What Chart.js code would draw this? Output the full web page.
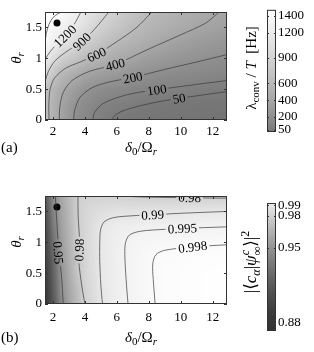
<!DOCTYPE html>
<html>
<head>
<meta charset="utf-8">
<script src="https://cdn.jsdelivr.net/npm/chart.js@4.4.1/dist/chart.umd.min.js"></script>
<style>
  body { margin: 0; background: #fff; }
  #fig { position: relative; width: 314px; height: 352px; overflow: hidden; }
  canvas { position: absolute; }
</style>
</head>
<body>
<div id="fig">
  <canvas id="mapA" width="240" height="176" style="left:0;top:0"></canvas>
  <canvas id="barA" width="74" height="176" style="left:240px;top:0"></canvas>
  <canvas id="mapB" width="240" height="176" style="left:0;top:176px"></canvas>
  <canvas id="barB" width="74" height="176" style="left:240px;top:176px"></canvas>
</div>
<script>
const SERIF = '"Liberation Serif", "DejaVu Serif", serif'

// grid nodes (delta0/Omega_r along x, theta_r along y)
const deltaNodes = [1.5, 2, 2.5, 3, 3.5, 4, 5, 6, 7, 8, 9, 10, 11, 12, 13]
const thetaNodes = [0, 0.25, 0.5, 0.75, 1, 1.25, 1.5, 1.75]

// lambda_conv / T [Hz], one row per theta node
const lambdaGrid = [
	[700, 523, 378, 267, 183, 142, 79, 45, 37, 33, 30, 28, 27, 26, 25],
	[690, 529, 394, 299, 204, 169, 103, 83, 65, 48, 44, 40, 37, 35, 33],
	[700, 563, 460, 373, 309, 236, 179, 150, 127, 110, 98, 88, 79, 69, 61],
	[950, 764, 589, 526, 463, 400, 331, 286, 236, 198, 178, 162, 148, 136, 126],
	[1220, 1027, 873, 794, 715, 635, 538, 459, 395, 324, 282, 248, 221, 200, 190],
	[1400, 1278, 1160, 1050, 940, 856, 720, 592, 525, 458, 398, 348, 309, 277, 251],
	[1450, 1359, 1292, 1224, 1137, 1038, 865, 747, 628, 560, 506, 453, 400, 370, 345],
	[1470, 1440, 1405, 1325, 1242, 1157, 986, 844, 733, 622, 562, 514, 467, 419, 390]
]

// |<c_alpha|psi_inf^c>|^2, one row per theta node
const overlapGrid = [
	[0.882, 0.913, 0.943, 0.958, 0.969, 0.980, 0.989, 0.9928, 0.9955, 0.9973, 0.9985, 0.999, 0.9993, 0.9995, 0.9996],
	[0.885, 0.916, 0.947, 0.960, 0.971, 0.981, 0.9898, 0.993, 0.9957, 0.9975, 0.9986, 0.999, 0.9993, 0.9995, 0.9996],
	[0.888, 0.919, 0.949, 0.962, 0.9745, 0.982, 0.9901, 0.9932, 0.9958, 0.9975, 0.9986, 0.999, 0.9993, 0.9995, 0.9996],
	[0.892, 0.923, 0.952, 0.964, 0.975, 0.982, 0.9902, 0.9934, 0.9958, 0.9974, 0.9984, 0.9988, 0.999, 0.9991, 0.9992],
	[0.896, 0.928, 0.955, 0.966, 0.977, 0.983, 0.9902, 0.9933, 0.9955, 0.9964, 0.9969, 0.9972, 0.9973, 0.9974, 0.9976],
	[0.900, 0.935, 0.956, 0.967, 0.978, 0.9825, 0.9897, 0.9925, 0.9932, 0.9942, 0.9942, 0.9945, 0.9947, 0.9948, 0.995],
	[0.905, 0.940, 0.958, 0.968, 0.979, 0.9825, 0.986, 0.9875, 0.9878, 0.9881, 0.9885, 0.9889, 0.9893, 0.9896, 0.990],
	[0.910, 0.945, 0.960, 0.969, 0.979, 0.9805, 0.981, 0.9805, 0.9795, 0.9793, 0.9792, 0.9792, 0.9791, 0.979, 0.979]
]

// contour lines, [delta0/Omega_r, theta_r]
const lambdaContours = [
	{ level: 1400, pts: [[1.5, 1.24], [1.58, 1.4], [1.75, 1.55], [2.0, 1.66], [2.3, 1.72], [2.55, 1.75]] },
	{ level: 1200, label: [2.75, 1.36], pts: [[1.5, 0.98], [1.8, 1.1], [2.2, 1.22], [2.75, 1.36], [3.3, 1.54], [3.75, 1.75]] },
	{ level: 900, label: [3.8, 1.27], pts: [[1.5, 0.62], [1.7, 0.78], [2.1, 0.95], [2.8, 1.1], [3.8, 1.27], [4.6, 1.47], [5.5, 1.75]] },
	{ level: 600, label: [4.73, 1.06], pts: [[1.75, 0], [1.74, 0.25], [1.82, 0.5], [2.1, 0.68], [2.8, 0.84], [3.7, 0.94], [4.73, 1.06], [6.0, 1.27], [7.2, 1.49], [8.2, 1.75]] },
	{ level: 400, label: [5.9, 0.9], pts: [[2.4, 0], [2.42, 0.2], [2.65, 0.45], [3.2, 0.64], [4.3, 0.79], [5.9, 0.9], [8.0, 1.15], [10.0, 1.38], [11.5, 1.56], [12.1, 1.68], [12.4, 1.75]] },
	{ level: 200, label: [7.0, 0.69], pts: [[3.3, 0], [3.35, 0.15], [3.7, 0.37], [4.5, 0.53], [5.6, 0.62], [7.0, 0.69], [9.0, 0.82], [11.0, 0.94], [12.9, 1.06]] },
	{ level: 100, label: [8.5, 0.49], pts: [[4.5, 0], [4.6, 0.12], [5.1, 0.26], [6.0, 0.36], [7.0, 0.43], [8.5, 0.49], [10.5, 0.56], [12.9, 0.64]] },
	{ level: 50, label: [9.9, 0.35], pts: [[5.7, 0], [5.85, 0.07], [6.4, 0.15], [7.3, 0.22], [8.5, 0.29], [9.9, 0.35], [11.5, 0.41], [12.9, 0.46]] }
]

const overlapContours = [
	{ level: 0.95, label: [2.33, 0.83], pts: [[2.64, 0], [2.55, 0.4], [2.4, 0.8], [2.27, 1.2], [2.15, 1.75]] },
	{ level: 0.98, label: [3.64, 0.875], pts: [[4.0, 0], [3.8, 0.3], [3.62, 0.7], [3.66, 1.05], [3.58, 1.4], [3.56, 1.75]] },
	{ level: 0.98, label: [10.56, 1.725], pts: [[6.3, 1.75], [7.5, 1.735], [9.5, 1.725], [12.9, 1.715]] },
	{ level: 0.99, label: [8.25, 1.445], pts: [[5.1, 0], [5.0, 0.3], [4.93, 0.7], [4.93, 1.0], [4.98, 1.2], [5.2, 1.33], [5.8, 1.4], [7.0, 1.43], [8.25, 1.445], [10, 1.47], [12.9, 1.5]] },
	{ level: 0.995, label: [10.1, 1.225], pts: [[6.7, 0], [6.58, 0.4], [6.5, 0.8], [6.55, 1.0], [6.8, 1.12], [7.5, 1.18], [9, 1.21], [10.1, 1.225], [12.9, 1.25]] },
	{ level: 0.998, label: [10.75, 0.925], pts: [[8.4, 0], [8.28, 0.4], [8.25, 0.65], [8.45, 0.8], [9, 0.87], [10.75, 0.925], [12.9, 0.96]] }
]

const optimum = [{ x: 2.25, y: 1.571 }]
const xTicks = [2, 4, 6, 8, 10, 12]
const yTicks = [0, 0.5, 1, 1.5]
const lambdaBarTicks = [50, 200, 400, 600, 900, 1200, 1400]
const lambdaBarRange = [23, 1470]
const overlapBarTicks = [0.88, 0.95, 0.98, 0.99]
const overlapBarRange = [0.872, 0.992]
const overlapColorRange = [0.872, 1.0]

const clamp01 = (t) => Math.max(0, Math.min(1, t))
const grayA = (v) => Math.round(114 + 141 * Math.pow(clamp01((v - lambdaBarRange[0]) / (lambdaBarRange[1] - lambdaBarRange[0])), 0.75))
const grayB = (v) => Math.round(50 + 205 * Math.pow(clamp01((v - overlapColorRange[0]) / (overlapColorRange[1] - overlapColorRange[0])), 1.5))

function bilinear(grid, x, y) {
	let i = 0
	while (i < deltaNodes.length - 2 && x > deltaNodes[i + 1]) i++
	let j = 0
	while (j < thetaNodes.length - 2 && y > thetaNodes[j + 1]) j++
	const tx = clamp01((x - deltaNodes[i]) / (deltaNodes[i + 1] - deltaNodes[i]))
	const ty = clamp01((y - thetaNodes[j]) / (thetaNodes[j + 1] - thetaNodes[j]))
	const lo = grid[j][i] * (1 - tx) + grid[j][i + 1] * tx
	const hi = grid[j + 1][i] * (1 - tx) + grid[j + 1][i + 1] * tx
	return lo * (1 - ty) + hi * ty
}

// text with sub/superscripts: [text, italic, mode] mode 0 normal, 1 sub, 2 sup, 3 stacked [sub, sup]
function drawRich(ctx, parts, x, y, size, rot, align) {
	ctx.save()
	ctx.translate(x, y)
	ctx.rotate(rot)
	ctx.fillStyle = '#000'
	ctx.textBaseline = 'middle'
	ctx.textAlign = 'left'
	const fontOf = (p) => (p[1] ? 'italic ' : '') + (p[2] ? Math.round(size * 0.7) : size) + 'px ' + SERIF
	const widthOf = (p) => {
		ctx.font = fontOf(p)
		if (p[2] === 3) return Math.max(ctx.measureText(p[0][0]).width, ctx.measureText(p[0][1]).width)
		return ctx.measureText(p[0]).width
	}
	const total = parts.reduce((s, p) => s + widthOf(p), 0)
	let cx = align === 'center' ? -total / 2 : 0
	for (const p of parts) {
		ctx.font = fontOf(p)
		if (p[2] === 3) {
			ctx.fillText(p[0][0], cx, size * 0.32)
			ctx.fillText(p[0][1], cx, -size * 0.38)
		} else {
			const dy = p[2] === 1 ? size * 0.3 : p[2] === 2 ? -size * 0.38 : 0
			ctx.fillText(p[0], cx, dy)
		}
		cx += widthOf(p)
	}
	ctx.restore()
}

const xTitle = [['δ', true, 0], ['0', false, 1], ['/', false, 0], ['Ω', false, 0], ['r', true, 1]]
const yTitle = [['θ', true, 0], ['r', true, 1]]

function makeMapPlugin(cfg) {
	return {
		id: 'contourMap',
		beforeDatasetsDraw(chart) {
			const { ctx, chartArea: ca, scales: { x, y } } = chart
			if (!chart.$heat) {
				const w = Math.round(ca.right - ca.left), h = Math.round(ca.bottom - ca.top)
				const off = document.createElement('canvas')
				off.width = w
				off.height = h
				const octx = off.getContext('2d')
				const img = octx.createImageData(w, h)
				for (let py = 0; py < h; py++) {
					const yv = y.getValueForPixel(ca.top + py + 0.5)
					for (let px = 0; px < w; px++) {
						const xv = x.getValueForPixel(ca.left + px + 0.5)
						const g = cfg.gray(bilinear(cfg.grid, xv, yv))
						const k = (py * w + px) * 4
						img.data[k] = img.data[k + 1] = img.data[k + 2] = g
						img.data[k + 3] = 255
					}
				}
				octx.putImageData(img, 0, 0)
				chart.$heat = off
			}
			ctx.drawImage(chart.$heat, Math.round(ca.left), Math.round(ca.top))
		},
		afterDatasetsDraw(chart) {
			const { ctx, chartArea: ca, scales: { x, y } } = chart
			ctx.save()
			ctx.beginPath()
			ctx.rect(ca.left, ca.top, ca.right - ca.left, ca.bottom - ca.top)
			ctx.clip()
			ctx.font = '13px ' + SERIF
			for (const c of cfg.contours) {
				if (!c.label) continue
				const lx = x.getPixelForValue(c.label[0]), ly = y.getPixelForValue(c.label[1])
				const pp = c.pts.map((p) => [x.getPixelForValue(p[0]), y.getPixelForValue(p[1])])
				let best = 0, bd = Infinity
				for (let k = 0; k < pp.length - 1; k++) {
					const mx = (pp[k][0] + pp[k + 1][0]) / 2, my = (pp[k][1] + pp[k + 1][1]) / 2
					const d = Math.hypot(mx - lx, my - ly)
					if (d < bd) { bd = d; best = k }
				}
				let a = Math.atan2(pp[best + 1][1] - pp[best][1], pp[best + 1][0] - pp[best][0])
				if (a > Math.PI / 2) a -= Math.PI
				if (a <= -Math.PI / 2) a += Math.PI
				const text = String(c.level)
				const tw = ctx.measureText(text).width
				ctx.save()
				ctx.translate(lx, ly)
				ctx.rotate(a)
				ctx.beginPath()
				ctx.rect(-tw / 2 - 2, -5, tw + 4, 10)
				ctx.restore()
				ctx.save()
				ctx.clip()
				ctx.drawImage(chart.$heat, Math.round(ca.left), Math.round(ca.top))
				ctx.restore()
				ctx.save()
				ctx.translate(lx, ly)
				ctx.rotate(a)
				ctx.fillStyle = '#000'
				ctx.textAlign = 'center'
				ctx.textBaseline = 'middle'
				ctx.fillText(text, 0, 1)
				ctx.restore()
			}
			ctx.restore()
			// frame and inward ticks
			ctx.save()
			ctx.strokeStyle = '#333'
			ctx.lineWidth = 1
			ctx.strokeRect(ca.left + 0.5, ca.top + 0.5, ca.right - ca.left - 1, ca.bottom - ca.top - 1)
			ctx.beginPath()
			for (const t of xTicks) {
				const px = Math.round(x.getPixelForValue(t)) + 0.5
				ctx.moveTo(px, ca.bottom); ctx.lineTo(px, ca.bottom - 3)
				ctx.moveTo(px, ca.top); ctx.lineTo(px, ca.top + 3)
			}
			for (const t of yTicks) {
				const py = Math.round(y.getPixelForValue(t)) + 0.5
				ctx.moveTo(ca.left, py); ctx.lineTo(ca.left + 3, py)
				ctx.moveTo(ca.right, py); ctx.lineTo(ca.right - 3, py)
			}
			ctx.stroke()
			ctx.restore()
		},
		afterDraw(chart) {
			const { ctx, chartArea: ca } = chart
			drawRich(ctx, xTitle, (ca.left + ca.right) / 2 + 5, cfg.titleY, 15, 0, 'center')
			drawRich(ctx, yTitle, 17, (ca.top + ca.bottom) / 2 - 8, 15, -Math.PI / 2, 'center')
			drawRich(ctx, [[cfg.tag, false, 0]], 1, cfg.titleY, 15, 0, 'left')
		}
	}
}

function makeMap(id, cfg) {
	const datasets = cfg.contours.map((c) => ({
		data: c.pts.map((p) => ({ x: p[0], y: p[1] })),
		showLine: true,
		pointRadius: 0,
		borderColor: '#3a3a3a',
		borderWidth: 0.7,
		tension: 0.3
	}))
	datasets.push({ data: optimum, pointRadius: 3.5, backgroundColor: '#000', borderWidth: 0 })
	return new Chart(document.getElementById(id), {
		type: 'scatter',
		data: { datasets },
		plugins: [makeMapPlugin(cfg)],
		options: {
			responsive: false,
			animation: false,
			events: [],
			layout: { padding: { top: cfg.top, right: 13, left: 0, bottom: 0 } },
			plugins: { legend: { display: false }, tooltip: { enabled: false } },
			scales: {
				x: {
					min: 1.5, max: 12.9,
					afterBuildTicks: (s) => { s.ticks = xTicks.map((v) => ({ value: v })) },
					afterFit: (s) => { s.height = 176 - cfg.bottom },
					grid: { display: false, drawTicks: false },
					border: { display: false },
					ticks: { color: '#000', font: { family: SERIF, size: 13 }, padding: cfg.tickPad, maxRotation: 0, callback: (v) => String(v) }
				},
				y: {
					min: 0, max: 1.75,
					afterBuildTicks: (s) => { s.ticks = yTicks.map((v) => ({ value: v })) },
					afterFit: (s) => { s.width = 45 },
					grid: { display: false, drawTicks: false },
					border: { display: false },
					ticks: { color: '#000', font: { family: SERIF, size: 13 }, padding: 3, callback: (v) => String(v) }
				}
			}
		}
	})
}

function makeBar(id, cfg) {
	return new Chart(document.getElementById(id), {
		type: 'scatter',
		data: { datasets: [] },
		plugins: [{
			id: 'colorbar',
			beforeDatasetsDraw(chart) {
				const { ctx, chartArea: ca, scales: { y } } = chart
				for (let py = Math.round(ca.top); py < Math.round(ca.bottom); py++) {
					const g = cfg.gray(y.getValueForPixel(py + 0.5))
					ctx.fillStyle = `rgb(${g},${g},${g})`
					ctx.fillRect(ca.left, py, ca.right - ca.left, 1)
				}
			},
			afterDatasetsDraw(chart) {
				const { ctx, chartArea: ca, scales: { y } } = chart
				ctx.save()
				ctx.strokeStyle = '#333'
				ctx.lineWidth = 1
				ctx.strokeRect(ca.left + 0.5, ca.top + 0.5, ca.right - ca.left - 1, ca.bottom - ca.top - 1)
				ctx.beginPath()
				for (const t of cfg.ticks) {
					const py = Math.round(y.getPixelForValue(t)) + 0.5
					ctx.moveTo(ca.left, py); ctx.lineTo(ca.left + 2, py)
					ctx.moveTo(ca.right, py); ctx.lineTo(ca.right - 2, py)
				}
				ctx.stroke()
				ctx.restore()
			},
			afterDraw(chart) {
				const { ctx } = chart
				drawRich(ctx, cfg.title, 12, cfg.titleY, cfg.titleSize, -Math.PI / 2, 'center')
			}
		}],
		options: {
			responsive: false,
			animation: false,
			events: [],
			layout: { padding: { top: cfg.top, bottom: 176 - cfg.bottom, left: 27, right: 0 } },
			plugins: { legend: { display: false }, tooltip: { enabled: false } },
			scales: {
				x: { display: false, min: 0, max: 1 },
				y: {
					position: 'right',
					min: cfg.range[0], max: cfg.range[1],
					afterBuildTicks: (s) => { s.ticks = cfg.ticks.map((v) => ({ value: v })) },
					afterFit: (s) => { s.width = 38 },
					grid: { display: false, drawTicks: false },
					border: { display: false },
					ticks: { color: '#000', font: { family: SERIF, size: 13 }, padding: 2, autoSkip: false, callback: cfg.fmt }
				}
			}
		}
	})
}

makeMap('mapA', { grid: lambdaGrid, gray: grayA, contours: lambdaContours, top: 12, bottom: 120, tickPad: 4, titleY: 148, tag: '(a)' })
makeMap('mapB', { grid: overlapGrid, gray: grayB, contours: overlapContours, top: 20, bottom: 128, tickPad: 6, titleY: 162, tag: '(b)' })

makeBar('barA', {
	range: lambdaBarRange, ticks: lambdaBarTicks, gray: grayA, top: 9, bottom: 132,
	fmt: (v) => String(v), titleY: 68, titleSize: 15,
	title: [['λ', false, 0], ['conv', false, 1], [' / ', false, 0], ['T', true, 0], ['  [Hz]', false, 0]]
})
makeBar('barB', {
	range: overlapBarRange, ticks: overlapBarTicks, gray: grayB, top: 27, bottom: 155,
	fmt: (v) => v.toFixed(2), titleY: 86, titleSize: 17,
	title: [['|⟨', false, 0], ['c', true, 0], ['α', true, 1], ['|', false, 0], ['ψ', true, 0], [['∞', 'c'], true, 3], ['⟩|', false, 0], ['2', false, 2]]
})
</script>
</body>
</html>
